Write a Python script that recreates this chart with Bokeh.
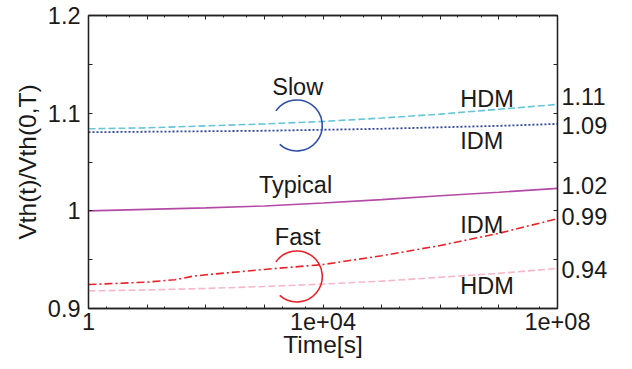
import numpy as np
from bokeh.plotting import figure
from bokeh.models import (FixedTicker, LinearAxis, LogAxis, Range1d,
                          Label, CustomJSTickFormatter)
from bokeh.embed import file_html
from bokeh.resources import INLINE

# ---------------- data ----------------
time_s = [1, 1e1, 1e2, 1e3, 1e4, 1e5, 1e6, 1e7, 1e8]
slow_hdm = [1.084, 1.085, 1.087, 1.089, 1.0915, 1.095, 1.099, 1.104, 1.109]
slow_idm = [1.0805, 1.081, 1.0815, 1.082, 1.083, 1.084, 1.0855, 1.087, 1.089]
typical = [1.000, 1.0015, 1.003, 1.005, 1.008, 1.0115, 1.0155, 1.019, 1.023]
fast_hdm = [0.918, 0.919, 0.9205, 0.9225, 0.925, 0.928, 0.932, 0.936, 0.941]
fast_idm_time = [1, 1e1, 30, 60, 1e2, 1e3, 1e4, 1e5, 1e6, 1e7, 1e8]
fast_idm = [0.9245, 0.927, 0.9295, 0.933, 0.9345, 0.940, 0.945, 0.954, 0.9645, 0.977, 0.992]

x_major = [10.0 ** e for e in range(9)]
x_minor = [k * 10.0 ** e for e in range(8) for k in (2, 5)]
x_tick_values = [1, 1e4, 1e8]
x_tick_labels = ["1", "1e+04", "1e+08"]
y_major = [0.9, 1.0, 1.1, 1.2]
y_minor = [0.95, 1.05, 1.15]
y_tick_labels = ["0.9", "1", "1.1", "1.2"]

# end-of-curve value labels (right side)
end_values = ["1.11", "1.09", "1.02", "0.99", "0.94"]
end_label_y = [1.117, 1.0874, 1.026, 0.9937, 0.9404]

FONT = "Liberation Sans"
TXT = "#1a1a1a"
FS = "23.5px"

p = figure(width=632, height=369, x_axis_type="log",
           x_range=Range1d(1, 1e8), y_range=Range1d(0.9, 1.2),
           output_backend="svg", toolbar_location=None,
           min_border_left=88, min_border_right=75,
           min_border_top=15, min_border_bottom=61)
p.background_fill_color = "white"
p.border_fill_color = "white"
p.grid.visible = False
p.outline_line_color = "#222222"
p.outline_line_width = 1.3

xt = FixedTicker(ticks=x_major, minor_ticks=x_minor)
yt = FixedTicker(ticks=y_major, minor_ticks=y_minor)
xfmt = CustomJSTickFormatter(args=dict(vals=x_tick_values, labs=x_tick_labels), code="""
for (let i = 0; i < vals.length; i++) {
  if (Math.abs(Math.log10(tick) - Math.log10(vals[i])) < 1e-6) return labs[i];
}
return "";
""")
yfmt = CustomJSTickFormatter(args=dict(vals=y_major, labs=y_tick_labels), code="""
for (let i = 0; i < vals.length; i++) {
  if (Math.abs(tick - vals[i]) < 1e-6) return labs[i];
}
return "";
""")
rfmt = CustomJSTickFormatter(args=dict(vals=end_label_y, labs=end_values), code="""
for (let i = 0; i < vals.length; i++) {
  if (Math.abs(tick - vals[i]) < 1e-6) return labs[i];
}
return "";
""")
blank = CustomJSTickFormatter(code="return '';")

def style_axis(ax, major_len, minor_len):
    ax.axis_line_color = "#222222"
    ax.axis_line_width = 1.3
    ax.major_tick_line_color = "#222222"
    ax.minor_tick_line_color = "#222222"
    ax.major_tick_in = major_len
    ax.major_tick_out = 0
    ax.minor_tick_in = minor_len
    ax.minor_tick_out = 0
    ax.major_label_text_font = FONT
    ax.major_label_text_font_size = FS
    ax.major_label_text_color = TXT
    ax.axis_label_text_font = FONT
    ax.axis_label_text_font_size = "24.5px"
    ax.axis_label_text_font_style = "normal"
    ax.axis_label_text_color = TXT

xa = p.xaxis[0]
xa.ticker = xt
xa.formatter = xfmt
style_axis(xa, 4, 2)
xa.major_label_standoff = 4
xa.axis_label = "Time[s]"
xa.axis_label_standoff = -2

ya = p.yaxis[0]
ya.ticker = yt
ya.formatter = yfmt
style_axis(ya, 4, 4)
ya.major_label_standoff = 8
ya.axis_label = "Vth(t)/Vth(0,T)"
ya.axis_label_standoff = 4

top = LogAxis(ticker=xt, formatter=blank)
style_axis(top, 4, 2)
top.major_label_text_font_size = "0px"
top.major_label_standoff = 0
p.add_layout(top, "above")

right = LinearAxis(ticker=FixedTicker(ticks=end_label_y, minor_ticks=y_major + y_minor),
                   formatter=rfmt)
style_axis(right, 0, 4)
right.major_label_standoff = 4
p.add_layout(right, "right")

# ---------------- curves ----------------
p.line(time_s, slow_hdm, line_color="#66c6d8", line_width=1.6, line_dash="7 3")
p.line(time_s, slow_idm, line_color="#2f45a0", line_width=1.8, line_dash="2 2")
p.line(time_s, typical, line_color="#b44aa6", line_width=1.6)
p.line(fast_idm_time, fast_idm, line_color="#ea2228", line_width=1.6, line_dash="8 3 2 3")
p.line(time_s, fast_hdm, line_color="#f6b8c8", line_width=1.6, line_dash="7 3")

# ---------------- annotations ----------------
arc_x = [3570, 3570]
arc_y = [1.0874, 0.9328]
arc_colors = ["#2f4ea8", "#e8232a"]
for ax_, ay_, ac in zip(arc_x, arc_y, arc_colors):
    p.arc(x=[ax_], y=[ay_], radius=25.5, radius_units="screen",
          start_angle=np.deg2rad(-132), end_angle=np.deg2rad(145),
          line_color=ac, line_width=1.6)

text_items = [
    ("Slow", 3700, 1.1268, "center"),
    ("Typical", 3400, 1.026, "center"),
    ("Fast", 3700, 0.9727, "center"),
    ("HDM", 2.2e6, 1.1145, "left"),
    ("IDM", 2.2e6, 1.072, "left"),
    ("IDM", 2.2e6, 0.9853, "left"),
    ("HDM", 2.2e6, 0.9235, "left"),
]
for t, tx, ty, al in text_items:
    p.add_layout(Label(x=tx, y=ty, text=t, text_align=al, text_baseline="middle",
                       text_font=FONT, text_font_size=FS, text_color=TXT))

open("out.html", "w").write(file_html(p, INLINE))
